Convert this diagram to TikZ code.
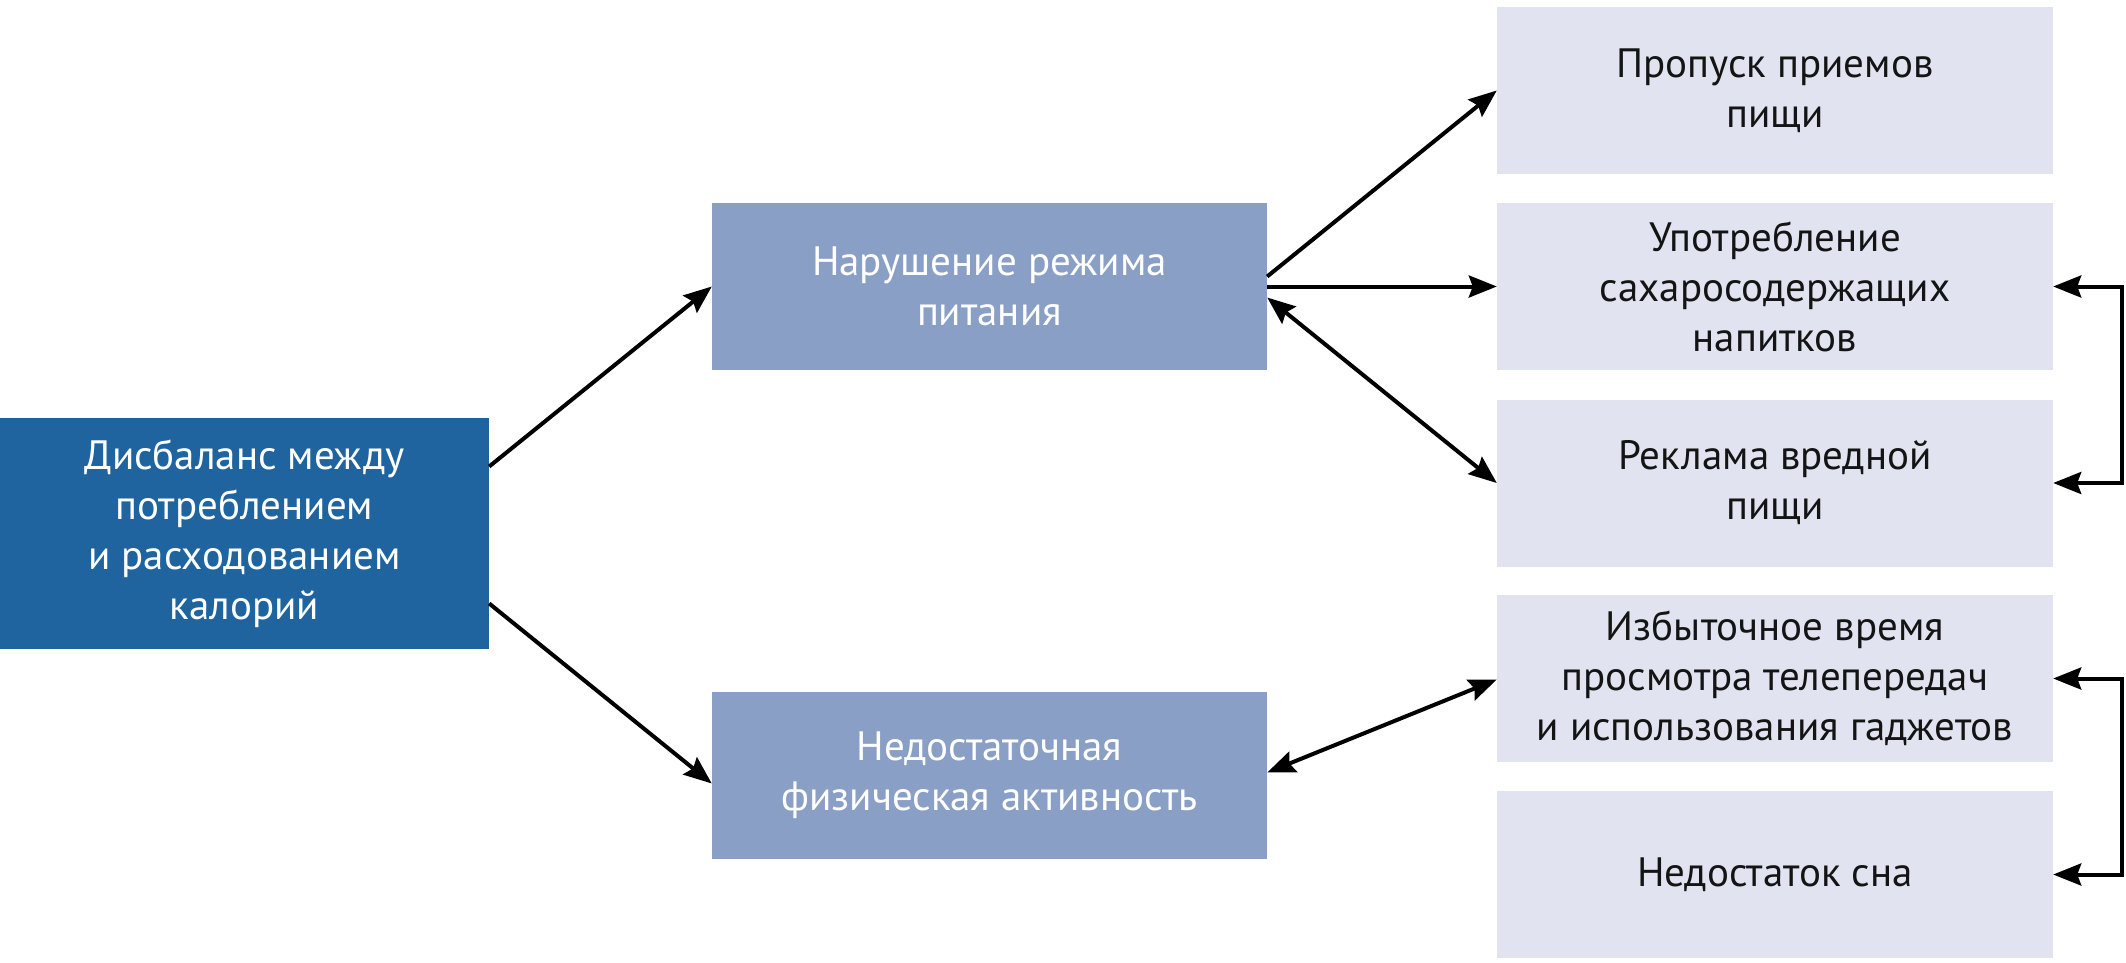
\documentclass[tikz,border=0pt]{standalone}
\usepackage{fontspec}
\setmainfont{PT Sans}
\usetikzlibrary{arrows.meta}
\definecolor{darkbox}{RGB}{31,100,158}
\definecolor{midbox}{RGB}{138,159,198}
\definecolor{lightbox}{RGB}{225,228,240}
\definecolor{txt}{RGB}{20,20,20}
\tikzset{
  boxbase/.style={rectangle, inner sep=0pt, align=center, font=\fontsize{41}{50}\selectfont},
  leftbox/.style={boxbase, fill=darkbox, text=white, minimum width=489pt, minimum height=231pt},
  midnode/.style={boxbase, fill=midbox, text=white, minimum width=555pt, minimum height=167pt},
  rightnode/.style={boxbase, fill=lightbox, text=txt, minimum width=556pt, minimum height=167pt},
  tip/.tip={Stealth[length=28pt,width=22pt,inset=4pt]},
  conn/.style={line width=4pt, black, -tip},
  dconn/.style={line width=4pt, black, tip-tip}
}
\begin{document}
\begin{tikzpicture}[x=1pt,y=-1pt]
\useasboundingbox (0,0) rectangle (2126,962);
\node[leftbox] (L) at (244.5,533.5) {Дисбаланс между\\потреблением\\и расходованием\\калорий};
\node[midnode] (B1) at (989.5,286.5) {Нарушение режима\\питания};
\node[midnode] (B2) at (989.5,775.5) {Недостаточная\\физическая активность};
\node[rightnode] (R1) at (1775,90.5) {Пропуск приемов\\пищи};
\node[rightnode] (R2) at (1775,286.5) {Употребление\\сахаросодержащих\\напитков};
\node[rightnode] (R3) at (1775,483) {Реклама вредной\\пищи};
\node[rightnode] (R4) at (1775,678.5) {Избыточное время\\просмотра телепередач\\и использования гаджетов};
\node[rightnode] (R5) at (1775,874.5) {Недостаток сна};
\draw[conn] ([yshift=67pt]L.east) -- (B1.west);
\draw[conn] ([yshift=-70pt]L.east) -- ([yshift=-8pt]B2.west);
\draw[conn] ([yshift=10pt]B1.east) -- (R1.west);
\draw[conn] (B1.east) -- (R2.west);
\draw[dconn] ([yshift=-11pt]B1.east) -- (R3.west);
\draw[dconn] ([yshift=3pt]B2.east) -- ([yshift=-1pt]R4.west);
\draw[dconn] (R2.east) -- ++(69,0) |- (R3.east);
\draw[dconn] (R4.east) -- ++(69,0) |- (R5.east);
\end{tikzpicture}
\end{document}
